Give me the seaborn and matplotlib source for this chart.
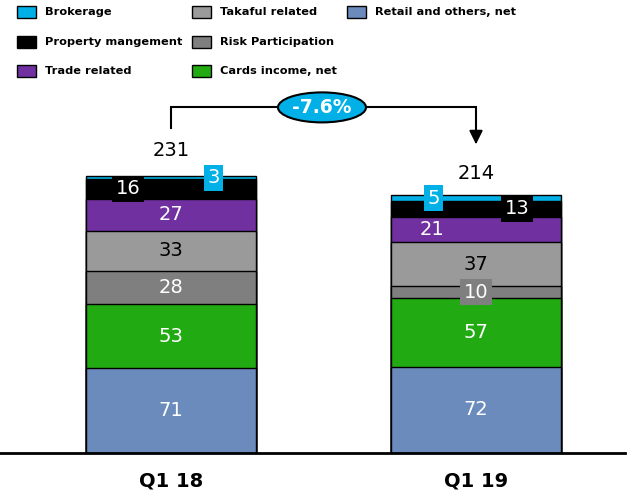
import matplotlib
matplotlib.use("Agg")
import matplotlib.pyplot as plt
from matplotlib.patches import Ellipse, Rectangle
import numpy as np
import pandas as pd
import seaborn as sns

quarters = ['Q1 18', 'Q1 19']
totals = [231, 214]
change_label = '-7.6%'

# segments, bottom to top
segments = ['Retail and others, net', 'Cards income, net', 'Risk Participation',
            'Takaful related', 'Trade related', 'Property mangement', 'Brokerage']
retail = [71, 72]
cards = [53, 57]
risk = [28, 10]
takaful = [33, 37]
trade = [27, 21]
property_mgmt = [16, 13]
brokerage = [3, 5]

colors = {
    'Retail and others, net': '#6A8BBC',
    'Cards income, net': '#22AA12',
    'Risk Participation': '#7F7F7F',
    'Takaful related': '#9A9A9A',
    'Trade related': '#7030A0',
    'Property mangement': '#000000',
    'Brokerage': '#00B0E6',
}
text_colors = {'Takaful related': 'black'}
# label x offsets and boxes for the thin segments
label_dx = {
    ('Property mangement', 0): -0.14, ('Brokerage', 0): 0.14,
    ('Trade related', 1): -0.145, ('Property mangement', 1): 0.135,
    ('Brokerage', 1): -0.14,
}
boxed = {'Property mangement', 'Brokerage', 'Risk Participation'}

df = pd.DataFrame({'quarter': quarters, 'Retail and others, net': retail,
                   'Cards income, net': cards, 'Risk Participation': risk,
                   'Takaful related': takaful, 'Trade related': trade,
                   'Property mangement': property_mgmt, 'Brokerage': brokerage})
cum = df[segments].cumsum(axis=1)

fig = plt.figure(figsize=(6.4, 4.93), dpi=100)
ax = fig.add_axes([0, 1 - 453 / 493, 625 / 640, (453 - 85) / 493])

width = 170 / 305
for seg in reversed(segments):
    sns.barplot(x=df['quarter'], y=cum[seg], color=colors[seg], saturation=1,
                width=width, edgecolor='black', linewidth=1, ax=ax)

ax.set_xlim(-171 / 305, (625 - 171) / 305)
ax.set_ylim(0, (453 - 85) / 1.2)

for i in range(len(quarters)):
    for seg in segments:
        val = df[seg].iloc[i]
        mid = cum[seg].iloc[i] - val / 2
        dx = label_dx.get((seg, i), 0)
        tc = text_colors.get(seg, 'white')
        kw = {}
        if seg in boxed and (seg != 'Risk Participation' or i == 1):
            kw['bbox'] = dict(facecolor=colors[seg], edgecolor='none', pad=2.5)
        ax.text(i + dx, mid, str(val), ha='center', va='center', color=tc,
                fontsize=14, **kw)
    ax.text(i, totals[i] + [21, 19][i], str(totals[i]), ha='center', va='center',
            fontsize=14, color='black')

# change arrow
ytop = 288
ax.plot([0, 0, 1, 1], [271, ytop, ytop, 262], color='black', lw=1.5,
        solid_joinstyle='miter')
ax.annotate('', xy=(1, 255), xytext=(1, 263),
            arrowprops=dict(arrowstyle='-|>,head_width=0.4,head_length=0.8',
                            color='black', lw=1.5))
ax.add_patch(Ellipse((0.495, ytop), 88 / 305, 25, facecolor='#00B0E6',
                     edgecolor='black', lw=1.5, zorder=5))
ax.text(0.495, ytop, change_label, ha='center', va='center', color='white',
        fontsize=13.5, fontweight='bold', zorder=6)

for s in ['top', 'left', 'right']:
    ax.spines[s].set_visible(False)
ax.spines['bottom'].set_linewidth(2)
ax.set_yticks([])
ax.set_xlabel('')
ax.set_ylabel('')
ax.tick_params(axis='x', length=0, pad=13)
ax.set_xticks(range(len(quarters)))
ax.set_xticklabels(quarters, fontsize=14, fontweight='bold')
ax.patch.set_visible(False)

# legend
legend_items = [('Brokerage', 17, 12), ('Property mangement', 17, 42),
                ('Trade related', 17, 71), ('Takaful related', 192, 12),
                ('Risk Participation', 192, 42), ('Cards income, net', 192, 71),
                ('Retail and others, net', 347, 12)]
for name, x, y in legend_items:
    fig.add_artist(Rectangle((x / 640, 1 - (y + 6) / 493), 19 / 640, 12 / 493,
                             transform=fig.transFigure, facecolor=colors[name],
                             edgecolor='black', lw=1))
    fig.text((x + 28) / 640, 1 - y / 493, name, ha='left', va='center',
             fontsize=8.2, fontweight='bold')

fig.savefig('out.png', dpi=100)
